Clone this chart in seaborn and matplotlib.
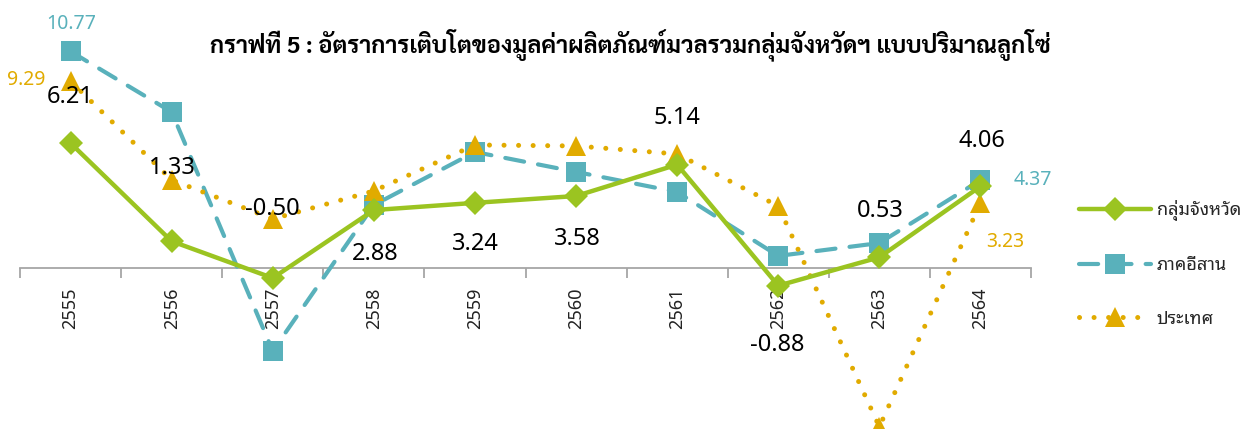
import matplotlib
matplotlib.use("Agg")
import matplotlib.pyplot as plt
import seaborn as sns
import numpy as np
import pandas as pd

# ---- data ----
years = ["2555", "2556", "2557", "2558", "2559", "2560", "2561", "2562", "2563", "2564"]
series_names = ["กลุ่มจังหวัด", "ภาคอีสาน", "ประเทศ"]
province = [6.21, 1.33, -0.50, 2.88, 3.24, 3.58, 5.14, -0.88, 0.53, 4.06]
northeast = [10.77, 7.76, -4.13, 3.13, 5.77, 4.78, 3.78, 0.60, 1.24, 4.37]
country = [9.29, 4.38, 2.44, 3.83, 6.12, 6.07, 5.67, 3.08, -7.90, 3.23]
title = "กราฟที่ 5 : อัตราการเติบโตของมูลค่าผลิตภัณฑ์มวลรวมกลุ่มจังหวัดฯ แบบปริมาณลูกโซ่"

# ---- style ----
sns.set_theme(style="white")
FONT = ["Noto Sans", "Noto Sans Thai Looped"]
plt.rcParams["font.family"] = FONT

GREEN = "#9BC421"
TEAL = "#59B1BB"
GOLD = "#E1AB00"

fig = plt.figure(figsize=(12.52, 4.29), dpi=100)
ax = fig.add_axes([20 / 1252, 0.0, 1011 / 1252, 1.0])

pt = 0.72  # px -> points

df = pd.DataFrame({"year": years, "p": province, "n": northeast, "c": country})

sns.lineplot(data=df, x="year", y="n", ax=ax, sort=False, color=TEAL,
             lw=3.0, linestyle=(0, (4.6, 3.4)), dash_capstyle="round",
             marker="s", markersize=14, markeredgewidth=0, label=series_names[1],
             zorder=3)
sns.lineplot(data=df, x="year", y="c", ax=ax, sort=False, color=GOLD,
             lw=3.6, linestyle=(0, (0.01, 2.9)), dash_capstyle="round",
             marker="^", markersize=15, markeredgewidth=0, label=series_names[2],
             zorder=4)
sns.lineplot(data=df, x="year", y="p", ax=ax, sort=False, color=GREEN,
             lw=3.2, marker="D", markersize=12, markeredgewidth=0,
             label=series_names[0], zorder=5)

ax.set_xlim(-0.5, len(years) - 0.5)
ax.set_ylim(-8.01, 13.33)
ax.set_xlabel("")
ax.set_ylabel("")
ax.set_yticks([])
for s in ["top", "left", "right"]:
    ax.spines[s].set_visible(False)
ax.spines["bottom"].set_position(("data", 0))
ax.spines["bottom"].set_color("#A6A6A6")
ax.spines["bottom"].set_linewidth(1.3)
ax.set_xticks(range(len(years)))
ax.set_xticklabels(years, rotation=90, fontsize=13, color="#222222")
ax.tick_params(axis="x", which="major", length=0, pad=14)
ax.set_xticks(np.arange(-0.5, len(years), 1.0), minor=True)
ax.tick_params(axis="x", which="minor", length=7, width=1.3, color="#A6A6A6",
               direction="out", bottom=True)
ax.set_facecolor("none")
ax.grid(False)

# ---- data labels ----
g_off = [(0, 46), (1, 73), (0, 69), (1, -44), (0, -41), (1, -43), (0, 47), (-1, -59), (1, 46), (1, 45)]
for i, (v, (dx, dy)) in enumerate(zip(province, g_off)):
    ax.annotate(f"{v:.2f}", (i, v), xytext=(dx * pt, dy * pt), textcoords="offset points",
                ha="center", va="center", fontsize=17, color="black", zorder=6,
                annotation_clip=False)

ax.annotate(f"{northeast[0]:.2f}", (0, northeast[0]), xytext=(1 * pt, 27 * pt),
            textcoords="offset points", ha="center", va="center", fontsize=14, color=TEAL)
ax.annotate(f"{northeast[-1]:.2f}", (9, northeast[-1]), xytext=(52 * pt, 0),
            textcoords="offset points", ha="center", va="center", fontsize=14, color=TEAL)
ax.annotate(f"{country[0]:.2f}", (0, country[0]), xytext=(-44 * pt, 1 * pt),
            textcoords="offset points", ha="center", va="center", fontsize=14, color=GOLD)
ax.annotate(f"{country[-1]:.2f}", (9, country[-1]), xytext=(25 * pt, -39 * pt),
            textcoords="offset points", ha="center", va="center", fontsize=14, color=GOLD)

# ---- legend ----
h, l = ax.get_legend_handles_labels()
order = [l.index(n) for n in series_names]
leg = fig.legend([h[i] for i in order], [l[i] for i in order],
                 loc="center left", bbox_to_anchor=(1072 / 1252, 1 - 264 / 429),
                 frameon=False, fontsize=13, handlelength=4.0, labelspacing=1.95,
                 handletextpad=0.3, borderaxespad=0)
if ax.get_legend():
    ax.get_legend().remove()

# ---- title ----
fig.text(630 / 1252, 1 - 45 / 429, title, ha="center", va="center",
         fontsize=17, fontweight="bold", color="black", family=["Sarabun"])

fig.savefig("out.png", dpi=100)
